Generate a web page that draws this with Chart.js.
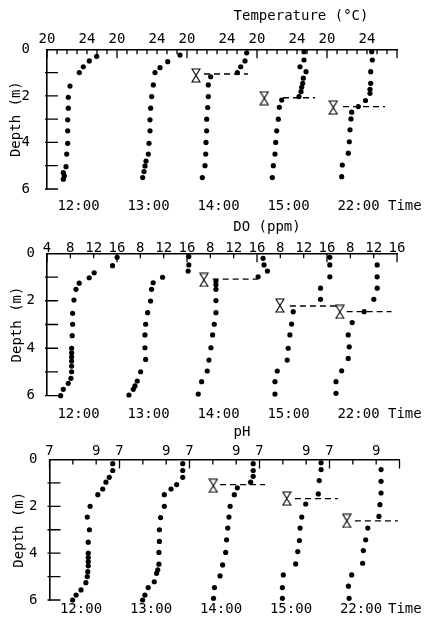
<!DOCTYPE html>
<html>
<head>
<meta charset="utf-8">
<script src="https://cdn.jsdelivr.net/npm/chart.js@4.4.0/dist/chart.umd.min.js"></script>
<style>
body { margin: 0; background: #fff; width: 426px; height: 627px; overflow: hidden; position: relative; }
canvas { position: absolute; left: 0; }
</style>
</head>
<body>
<canvas id="c1" width="426" height="215" style="top:0px"></canvas>
<canvas id="c2" width="426" height="207" style="top:215px"></canvas>
<canvas id="c3" width="426" height="205" style="top:422px"></canvas>
<script>
const times = ['12:00', '13:00', '14:00', '15:00', '22:00'];

// temperature (°C), one inner array per time
const tempDepth = [
  [0.3, 0.5, 0.75, 1.0, 1.58, 2.06, 2.53, 3.03, 3.5, 4.04, 4.5, 5.04, 5.3, 5.44, 5.58],
  [0.25, 0.53, 0.79, 1.0, 1.53, 2.03, 2.53, 3.03, 3.5, 4.04, 4.5, 4.8, 5.01, 5.25, 5.51],
  [0.15, 0.5, 0.75, 1.0, 1.18, 1.53, 2.03, 2.5, 3.0, 3.5, 4.0, 4.5, 5.0, 5.51],
  [0.1, 0.46, 0.75, 0.96, 1.24, 1.46, 1.63, 1.82, 2.03, 2.18, 2.49, 3.0, 3.5, 4.0, 4.5, 5.0, 5.51],
  [0.1, 0.46, 0.96, 1.46, 1.72, 1.89, 2.2, 2.46, 2.7, 2.99, 3.46, 3.97, 4.46, 4.97, 5.47]
];
const tempValue = [
  [24.97, 24.23, 23.63, 23.23, 22.3, 22.13, 22.13, 22.07, 22.07, 22.07, 21.97, 21.9, 21.63, 21.73, 21.63],
  [26.3, 25.07, 24.3, 23.8, 23.63, 23.47, 23.37, 23.3, 23.3, 23.2, 23.13, 22.9, 22.8, 22.7, 22.57],
  [25.97, 25.8, 25.37, 25.03, 22.37, 22.13, 22.13, 22.07, 21.97, 21.97, 21.9, 21.87, 21.8, 21.53],
  [24.7, 24.7, 24.3, 24.9, 24.63, 24.57, 24.47, 24.4, 24.2, 22.47, 22.23, 22.13, 21.97, 21.87, 21.8, 21.63, 21.53],
  [24.47, 24.53, 24.37, 24.37, 24.3, 24.3, 23.85, 23.13, 22.47, 22.4, 22.3, 22.23, 22.13, 21.53, 21.47]
];
const tempMarkDepth = [null, null, 1.12, 2.1, 2.5];
const tempMarkValue = [null, null, 20.9, 20.73, 20.63];
const tempLineDepth = [null, null, 1.06, 2.08, 2.46];
const tempLineFrom = [null, null, 21.7, 22.6, 21.6];
const tempLineTo = [null, null, 26.1, 25.8, 25.8];

// dissolved oxygen (ppm)
const doDepth = [
  [0.17, 0.52, 0.82, 1.03, 1.26, 1.52, 1.97, 2.53, 2.99, 3.47, 4.0, 4.19, 4.36, 4.54, 4.75, 4.99, 5.27, 5.48, 5.73, 6.0],
  [0.14, 0.49, 0.75, 1.01, 1.24, 1.52, 2.01, 2.5, 2.99, 3.44, 3.98, 4.47, 4.99, 5.38, 5.59, 5.73, 5.97],
  [0.21, 0.49, 0.75, 0.99, 1.17, 1.33, 1.52, 1.99, 2.5, 2.99, 3.44, 3.98, 4.5, 4.96, 5.41, 5.93],
  [0.17, 0.49, 0.99, 1.47, 1.94, 2.46, 2.98, 3.44, 4.0, 4.5, 4.96, 5.41, 5.93],
  [0.49, 0.99, 1.47, 1.94, 2.46, 2.92, 3.44, 3.94, 4.43, 4.95, 5.41, 5.9]
];
const doValue = [
  [16.02, 15.23, 12.09, 11.23, 9.52, 8.96, 8.62, 8.39, 8.39, 8.32, 8.22, 8.22, 8.22, 8.22, 8.22, 8.22, 8.1, 7.64, 6.79, 6.34],
  [16.31, 16.31, 16.19, 11.81, 10.2, 9.93, 9.76, 9.25, 8.91, 8.79, 8.79, 8.91, 8.05, 7.47, 7.08, 6.79, 6.05],
  [17.04, 17.21, 17.79, 16.19, 8.96, 8.96, 8.96, 8.96, 8.96, 8.67, 8.39, 8.1, 7.76, 7.47, 6.51, 5.93],
  [16.48, 16.48, 16.48, 14.89, 14.89, 10.21, 9.93, 9.64, 9.35, 9.18, 7.47, 7.08, 7.08],
  [12.6, 12.6, 12.6, 12.03, 10.38, 8.32, 7.64, 7.81, 7.64, 6.51, 5.54, 5.54]
];
const doMarkDepth = [null, null, 1.12, 2.2, 2.47];
const doMarkValue = [null, null, 6.9, 7.93, 6.2];
const doLineDepth = [null, null, 1.09, 2.22, 2.46];
const doLineFrom = [null, null, 8.4, 9.64, 7.37];
const doLineTo = [null, null, 16.1, 17.68, 15.06];

// pH
const phDepth = [
  [0.18, 0.47, 0.76, 0.97, 1.26, 1.5, 2.0, 2.46, 3.0, 3.53, 4.0, 4.19, 4.36, 4.54, 4.79, 5.0, 5.26, 5.57, 5.79, 6.0],
  [0.18, 0.47, 0.76, 1.07, 1.26, 1.5, 2.0, 2.48, 3.0, 3.5, 3.97, 4.47, 4.71, 4.86, 5.22, 5.47, 5.79, 6.0],
  [0.18, 0.47, 0.72, 0.97, 1.21, 1.5, 2.0, 2.46, 2.93, 3.43, 3.97, 4.5, 4.97, 5.47, 5.93],
  [0.14, 0.43, 0.9, 1.47, 1.9, 2.46, 2.93, 3.46, 3.93, 4.46, 4.93, 5.47, 5.93],
  [0.43, 0.93, 1.43, 1.93, 2.43, 2.93, 3.43, 3.89, 4.43, 4.93, 5.41, 5.93]
];
const phValue = [
  [9.71, 9.71, 9.56, 9.42, 9.28, 9.07, 8.74, 8.62, 8.71, 8.66, 8.66, 8.66, 8.66, 8.66, 8.64, 8.62, 8.56, 8.35, 8.14, 7.99],
  [9.71, 9.71, 9.71, 9.45, 9.21, 8.92, 8.92, 8.76, 8.71, 8.71, 8.69, 8.69, 8.64, 8.59, 8.49, 8.23, 8.09, 7.99],
  [9.73, 9.73, 9.73, 9.62, 9.05, 8.92, 8.74, 8.69, 8.64, 8.59, 8.55, 8.42, 8.31, 8.07, 8.03],
  [9.64, 9.64, 9.56, 9.52, 8.98, 8.81, 8.74, 8.71, 8.64, 8.55, 8.02, 7.98, 7.98],
  [9.21, 9.21, 9.21, 9.16, 9.12, 8.64, 8.55, 8.45, 8.42, 7.95, 7.81, 7.84]
];
const phMarkDepth = [null, null, 1.12, 1.67, 2.62];
const phMarkValue = [null, null, 8.02, 8.17, 7.74];
const phLineDepth = [null, null, 1.07, 1.67, 2.62];
const phLineFrom = [null, null, 8.31, 8.52, 8.09];
const phLineTo = [null, null, 10.24, 10.36, 9.93];

// axis ticks
const tempTickLabels = [20, 24];
const doTickLabels = [8, 12, 16];
const phTickLabels = [7, 9];

Chart.defaults.font.family = 'DejaVu Sans Mono';
Chart.defaults.font.size = 14;
Chart.defaults.color = '#000';

function hourglass() {
  const c = document.createElement('canvas');
  c.width = 10; c.height = 15;
  const g = c.getContext('2d');
  g.strokeStyle = '#000'; g.fillStyle = '#fff'; g.lineWidth = 1.1;
  g.beginPath();
  g.moveTo(1, 1); g.lineTo(9, 1); g.lineTo(1, 14); g.lineTo(9, 14); g.closePath();
  g.fill(); g.stroke();
  return c;
}
const glass = hourglass();

const tickMarks = {
  id: 'tickMarks',
  afterDraw(chart, args, o) {
    const ctx = chart.ctx, xs = chart.scales.x, ys = chart.scales.y, a = chart.chartArea;
    ctx.save();
    ctx.strokeStyle = '#000';
    ctx.lineWidth = 1.3;
    ctx.beginPath();
    xs.ticks.forEach(t => {
      const px = xs.getPixelForValue(t.value);
      const r = t.value / o.span;
      const major = Math.abs(r - Math.round(r)) < 1e-6;
      ctx.moveTo(px, a.top);
      ctx.lineTo(px, a.top + (major ? 9 : 5));
    });
    for (let d = 1; d <= 6; d++) {
      const py = ys.getPixelForValue(d);
      ctx.moveTo(a.left - 2, py);
      ctx.lineTo(a.left + 11, py);
    }
    ctx.stroke();
    ctx.fillStyle = '#000';
    ctx.font = '14px "DejaVu Sans Mono"';
    ctx.textBaseline = 'middle';
    ctx.textAlign = 'center';
    ctx.fillText(o.title, o.titleX, o.titleY);
    ctx.textAlign = 'left';
    ctx.fillText('Time', o.timeX, o.timeY);
    ctx.restore();
  }
};

function makePanel(p) {
  const n = times.length;
  const total = n * p.span;
  const labelMap = {};
  for (let i = 0; i < n; i++) {
    p.tickLabels.forEach(v => { labelMap[(i * p.span + v - p.lo).toFixed(2)] = String(v); });
  }
  if (p.firstLabel != null) labelMap['0.00'] = String(p.firstLabel);
  const tickVals = [];
  for (let v = 0; v <= total + 1e-9; v += p.step) tickVals.push(v);
  const timeVals = times.map((t, i) => i * p.span + 0.45 * p.span);

  const datasets = [];
  for (let i = 0; i < n; i++) {
    datasets.push({
      data: p.depth[i].map((d, k) => ({ x: p.value[i][k] - p.lo + i * p.span, y: d })),
      pointRadius: 2.6, backgroundColor: '#000', borderWidth: 0, showLine: false
    });
    if (p.lineDepth[i] != null) {
      datasets.push({
        data: [
          { x: p.lineFrom[i] - p.lo + i * p.span, y: p.lineDepth[i] },
          { x: p.lineTo[i] - p.lo + i * p.span, y: p.lineDepth[i] }
        ],
        showLine: true, borderColor: '#000', borderWidth: 1.3, borderDash: [6, 4], pointRadius: 0
      });
    }
    if (p.markDepth[i] != null) {
      datasets.push({
        data: [{ x: p.markValue[i] - p.lo + i * p.span, y: p.markDepth[i] }],
        pointStyle: glass, pointRadius: 7, showLine: false
      });
    }
  }

  const H = p.height;
  return new Chart(document.getElementById(p.id), {
    type: 'scatter',
    data: { datasets: datasets },
    options: {
      responsive: false,
      animation: false,
      devicePixelRatio: 1,
      events: [],
      clip: false,
      layout: { padding: { left: 0, top: 0, bottom: 0, right: 426 - p.right } },
      plugins: {
        legend: { display: false },
        tooltip: { enabled: false },
        tickMarks: { span: p.span, title: p.title, titleX: p.titleX, titleY: p.titleY, timeX: 388, timeY: p.timeY }
      },
      scales: {
        x: {
          type: 'linear', position: 'top', min: 0, max: total,
          afterBuildTicks: s => { s.ticks = tickVals.map(v => ({ value: v })); },
          afterFit: s => { s.height = p.areaTop; },
          ticks: {
            autoSkip: false, maxRotation: 0, padding: p.labelPad,
            callback: v => labelMap[v.toFixed(2)] || ''
          },
          grid: { display: false, drawTicks: false },
          border: { display: true, color: '#000', width: 1.6 }
        },
        x2: {
          type: 'linear', position: 'bottom', min: 0, max: total,
          afterBuildTicks: s => { s.ticks = timeVals.map(v => ({ value: v })); },
          afterFit: s => { s.height = H - p.areaBottom; },
          ticks: {
            autoSkip: false, maxRotation: 0, padding: p.timePad,
            callback: (v, idx) => times[idx]
          },
          grid: { display: false, drawTicks: false },
          border: { display: false }
        },
        y: {
          type: 'linear', reverse: true, min: 0, max: 6,
          afterFit: s => { s.width = p.left; },
          ticks: { stepSize: 2, padding: p.yPad },
          title: { display: true, text: 'Depth (m)', padding: { top: p.yTitlePad, bottom: 0 } },
          grid: { display: false, drawTicks: false },
          border: { display: true, color: '#000', width: 1.6 }
        }
      }
    },
    plugins: [tickMarks]
  });
}

makePanel({
  id: 'c1', height: 215, lo: 20, span: 7, step: 1, tickLabels: tempTickLabels, firstLabel: null,
  depth: tempDepth, value: tempValue, markDepth: tempMarkDepth, markValue: tempMarkValue,
  lineDepth: tempLineDepth, lineFrom: tempLineFrom, lineTo: tempLineTo,
  title: 'Temperature (°C)', titleX: 301, titleY: 16, timeY: 206,
  left: 47, right: 397, areaTop: 49.3, areaBottom: 189, labelPad: 2, timePad: 8.6, yPad: 17, yTitlePad: 7.6
});
makePanel({
  id: 'c2', height: 207, lo: 4, span: 12, step: 4, tickLabels: doTickLabels, firstLabel: 4,
  depth: doDepth, value: doValue, markDepth: doMarkDepth, markValue: doMarkValue,
  lineDepth: doLineDepth, lineFrom: doLineFrom, lineTo: doLineTo,
  title: 'DO (ppm)', titleX: 267, titleY: 12.5, timeY: 199,
  left: 47, right: 397, areaTop: 38.3, areaBottom: 180.7, labelPad: -3, timePad: 9.9, yPad: 12, yTitlePad: 9
});
makePanel({
  id: 'c3', height: 205, lo: 7, span: 3, step: 1, tickLabels: phTickLabels, firstLabel: null,
  depth: phDepth, value: phValue, markDepth: phMarkDepth, markValue: phMarkValue,
  lineDepth: phLineDepth, lineFrom: phLineFrom, lineTo: phLineTo,
  title: 'pH', titleX: 242, titleY: 10.5, timeY: 187,
  left: 49.5, right: 399.5, areaTop: 37.5, areaBottom: 178, labelPad: 0, timePad: 0.6, yPad: 12, yTitlePad: 10.6
});
</script>
</body>
</html>
